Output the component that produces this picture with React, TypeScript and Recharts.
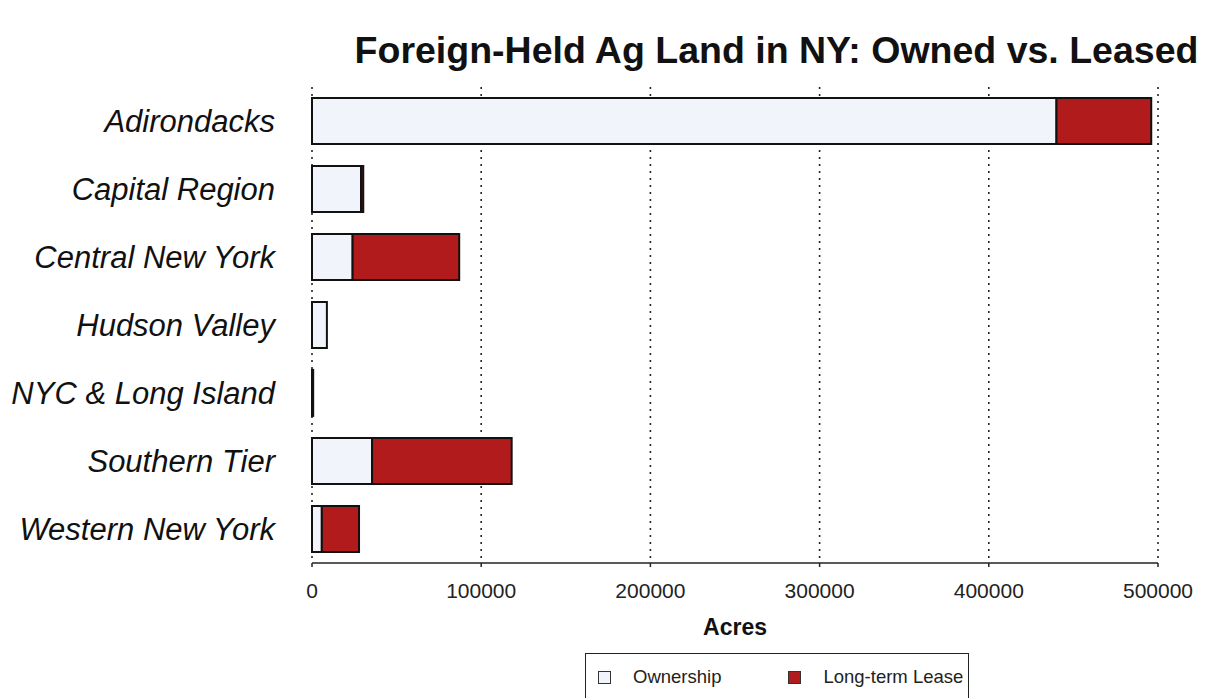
import { BarChart, Bar, XAxis, YAxis, CartesianGrid } from 'recharts';

const regions = [
  'Adirondacks',
  'Capital Region',
  'Central New York',
  'Hudson Valley',
  'NYC & Long Island',
  'Southern Tier',
  'Western New York',
];
const ownership = [440000, 29000, 24000, 8800, 700, 35500, 5800];
const longTermLease = [56000, 1300, 63000, 0, 0, 82500, 22000];
const xTicks = [0, 100000, 200000, 300000, 400000, 500000];

const data = regions.map((region, i) => ({
  region,
  owned: ownership[i],
  lease: longTermLease[i],
}));

const series = [
  { key: 'owned', name: 'Ownership', fill: '#f1f4fa' },
  { key: 'lease', name: 'Long-term Lease', fill: '#b21b1c' },
];

const FONT = '"Liberation Sans", Arial, Helvetica, sans-serif';

const RegionTick = (props: any) => {
  const { x, y, payload } = props;
  return (
    <text x={x - 29} y={y} dy={11} textAnchor="end" fontSize={31} fontStyle="italic" fill="#111" fontFamily={FONT}>
      {payload.value}
    </text>
  );
};

export default function App() {
  return (
    <div style={{ position: 'absolute', left: 0, top: 0, width: 1205, height: 698, background: '#fff', fontFamily: FONT, overflow: 'hidden' }}>
      <div style={{ position: 'absolute', left: 340, top: 29, width: 873, textAlign: 'center', fontSize: 37.5, fontWeight: 'bold', color: '#111', whiteSpace: 'nowrap' }}>
        Foreign-Held Ag Land in NY: Owned vs. Leased
      </div>
      <BarChart
        width={1205}
        height={698}
        data={data}
        layout="vertical"
        barCategoryGap="16%"
        margin={{ top: 87, right: 47, left: 0, bottom: 55 }}
      >
        <CartesianGrid horizontal={false} vertical stroke="#222" strokeDasharray="2 5" strokeWidth={1.6} />
        <XAxis
          type="number"
          domain={[0, 500000]}
          ticks={xTicks}
          interval={0}
          height={80}
          axisLine={{ stroke: '#222', strokeWidth: 1.5 }}
          tickLine={{ stroke: '#222', strokeWidth: 1.5 }}
          tickSize={4}
          tickMargin={16}
          tick={{ fontSize: 21, fill: '#222', fontFamily: FONT }}
          label={{ value: 'Acres', position: 'insideBottom', offset: 8, fontSize: 23, fontWeight: 'bold', fill: '#111', fontFamily: FONT }}
        />
        <YAxis type="category" dataKey="region" width={312} axisLine={false} tickLine={false} tick={<RegionTick />} interval={0} />
        {series.map((s) => (
          <Bar
            key={s.key}
            dataKey={s.key}
            name={s.name}
            stackId="a"
            fill={s.fill}
            stroke="#111"
            strokeWidth={2}
            isAnimationActive={false}
          />
        ))}
      </BarChart>
      <div
        style={{
          position: 'absolute',
          left: 585,
          top: 653,
          width: 384,
          height: 60,
          border: '1.5px solid #222',
          boxSizing: 'border-box',
          display: 'flex',
          alignItems: 'flex-start',
          paddingTop: 12,
          fontSize: 18.5,
          color: '#222',
        }}
      >
        {series.map((s, i) => (
          <div key={s.key} style={{ display: 'flex', alignItems: 'center', marginLeft: i === 0 ? 12 : 67 }}>
            <span style={{ width: 11, height: 11, background: s.fill, border: '1.5px solid #333', marginRight: 22, display: 'inline-block' }} />
            <span>{s.name}</span>
          </div>
        ))}
      </div>
    </div>
  );
}
